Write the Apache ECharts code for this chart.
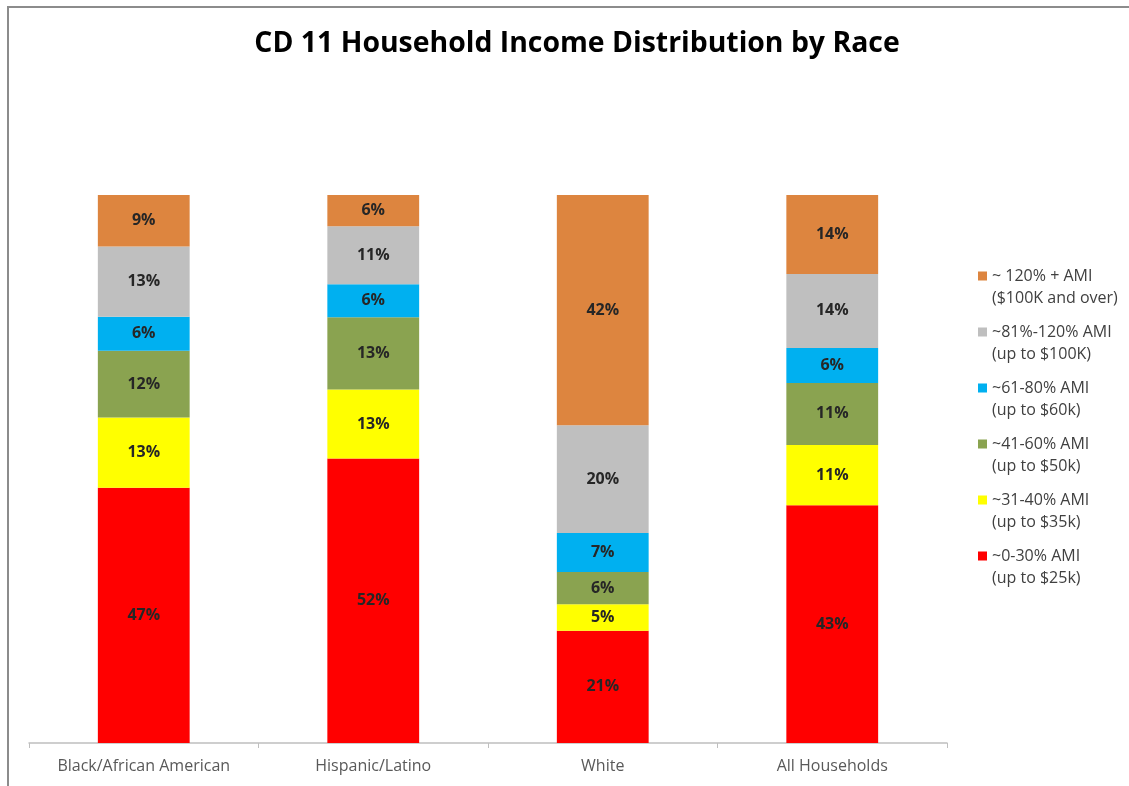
<!DOCTYPE html>
<html>
<head>
<meta charset="utf-8">
<script src="https://cdn.jsdelivr.net/npm/echarts@6/dist/echarts.min.js"></script>
<style>
  html, body { margin: 0; padding: 0; background: #fff; }
  #chart { width: 1129px; height: 786px; }
</style>
</head>
<body>
<div id="chart"></div>
<script>
var categories = ['Black/African American', 'Hispanic/Latino', 'White', 'All Households'];

// bottom to top of each stack
var seriesNames = [
  '~0-30% AMI\n(up to $25k)',
  '~31-40% AMI\n(up to $35k)',
  '~41-60% AMI\n(up to $50k)',
  '~61-80% AMI\n(up to $60k)',
  '~81%-120% AMI\n(up to $100K)',
  '~ 120% + AMI\n($100K and over)'
];
var seriesColors = ['#ff0000', '#ffff00', '#8aa350', '#00b0f0', '#bfbfbf', '#dd853f'];

var ami0to30   = [46.6, 51.9, 20.5, 43.4];
var ami31to40  = [12.8, 12.6, 4.8, 11.0];
var ami41to60  = [12.2, 13.2, 5.9, 11.3];
var ami61to80  = [6.2, 6.0, 7.1, 6.4];
var ami81to120 = [12.8, 10.6, 19.7, 13.5];
var ami120plus = [9.4, 5.7, 42.0, 14.4];

var seriesValues = [ami0to30, ami31to40, ami41to60, ami61to80, ami81to120, ami120plus];

var font = '"Open Sans", "Liberation Sans", sans-serif';

// square sits at the top of a tall icon box so it lines up with the first text line
var legendIcon = 'path://M0,0h9v9h-9z M4.5,30.9h0.1v0.1h-0.1z';

var series = seriesNames.map(function(name, i) {
  return {
    name: name,
    type: 'bar',
    stack: 'total',
    barWidth: '40%',
    data: seriesValues[i],
    itemStyle: { color: seriesColors[i] },
    label: {
      show: true,
      position: 'inside',
      color: '#262626',
      fontFamily: font,
      fontWeight: 'bold',
      fontSize: 16,
      formatter: function(p) { return Math.round(p.value) + '%'; }
    }
  };
});

var chart = echarts.init(document.getElementById('chart'));
chart.setOption({
  backgroundColor: '#fff',
  animation: false,
  title: {
    text: 'CD 11 Household Income Distribution by Race',
    left: 572,
    textAlign: 'center',
    top: 25,
    textStyle: { fontFamily: font, fontWeight: 'bold', fontSize: 28.4, color: '#000' }
  },
  graphic: [{
    type: 'rect',
    shape: { x: 8, y: 7, width: 1200, height: 900 },
    style: { fill: 'none', stroke: '#8c8c8c', lineWidth: 2 },
    silent: true
  }],
  legend: {
    orient: 'vertical',
    left: 973,
    top: 260,
    itemWidth: 9,
    itemHeight: 31,
    itemGap: 12,
    icon: legendIcon,
    data: seriesNames.slice().reverse(),
    textStyle: {
      fontFamily: font,
      fontSize: 16,
      color: '#404040',
      lineHeight: 22
    }
  },
  grid: { left: 29, right: 182, top: 195, bottom: 43 },
  xAxis: {
    type: 'category',
    data: categories,
    axisLine: { lineStyle: { color: '#bfbfbf', width: 1.5 } },
    axisTick: { show: true, interval: 0, length: 5, lineStyle: { color: '#bfbfbf' } },
    axisLabel: { interval: 0, color: '#595959', fontFamily: font, fontSize: 16, margin: 15 }
  },
  yAxis: {
    type: 'value',
    min: 0,
    max: 100,
    show: false,
    splitLine: { show: false }
  },
  series: series
});
</script>
</body>
</html>
